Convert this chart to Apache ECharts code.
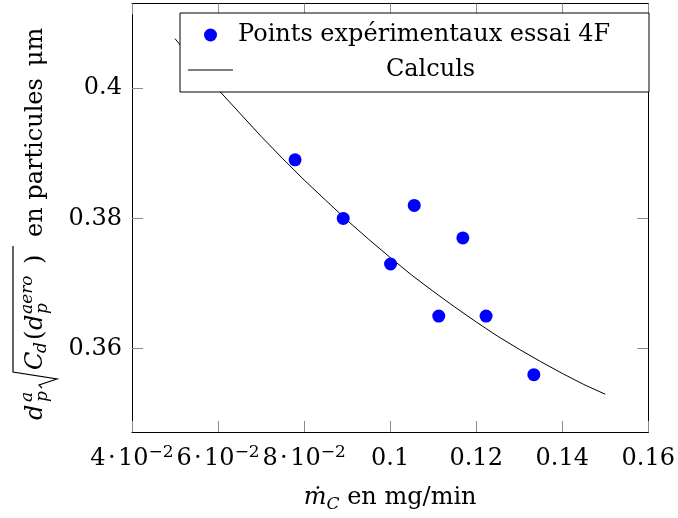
<!DOCTYPE html>
<html><head><meta charset="utf-8">
<script src="https://cdn.jsdelivr.net/npm/echarts@6/dist/echarts.min.js"></script>
<style>html,body{margin:0;padding:0;background:#fff}#c{width:678px;height:518px}</style>
</head><body><div id="c"></div>
<script>
// ---- data ----
const pointsName = 'Points expérimentaux essai 4F';
const curveName = 'Calculs';
const pointsX = [0.0779, 0.0891, 0.1001, 0.1056, 0.1113, 0.1169, 0.1223, 0.1334];
const pointsY = [0.389, 0.380, 0.373, 0.382, 0.365, 0.377, 0.365, 0.356];
const curveX = [0.050, 0.055, 0.060, 0.065, 0.070, 0.075, 0.080, 0.085, 0.090, 0.095, 0.100,
                0.105, 0.110, 0.115, 0.120, 0.125, 0.130, 0.135, 0.140, 0.145, 0.150];
const curveY = [0.4076, 0.4036, 0.3998, 0.3962, 0.3926, 0.3892, 0.3859, 0.3828, 0.3797, 0.3768, 0.3740,
                0.3713, 0.3688, 0.3664, 0.3641, 0.3619, 0.3599, 0.3580, 0.3562, 0.3545, 0.3530];
const xTicks = [0.04, 0.06, 0.08, 0.10, 0.12, 0.14, 0.16];
const xTickBase = ['4\u200a·\u200a10', '6\u200a·\u200a10', '8\u200a·\u200a10', '0.1', '0.12', '0.14', '0.16'];
const xTickExp = ['−2', '−2', '−2', '', '', '', ''];
const yTicks = [0.36, 0.38, 0.40];
const yTickLabels = ['0.36', '0.38', '0.4'];

const FF = '"DejaVu Serif"';
const FAM = 'DejaVu Serif';

function idx(arr, v) { for (let i = 0; i < arr.length; i++) if (Math.abs(arr[i] - v) < 1e-7) return i; return -1; }

function t(x, y, text, size, italic) {
  return { type: 'text', x: x, y: y,
    style: { text: text, font: (italic ? 'italic ' : '') + size + 'px ' + FF, fill: '#000',
             textAlign: 'left', textVerticalAlign: 'middle', align: 'left', verticalAlign: 'middle' } };
}
const M = -8.4, SUP = -16, SUB = -1;
const yTitle = {
  type: 'group', x: 44, y: 420, rotation: Math.PI / 2, silent: true,
  children: [
    t(0, M, 'd', 24, true),
    t(18, SUP, 'a', 17, true),
    t(18, SUB, 'p', 17, true),
    { type: 'polyline', shape: { points: [[32, -2], [35, -5], [41, 13], [48, -31], [174, -31]] },
      style: { stroke: '#000', lineWidth: 1.2, fill: null } },
    t(50, M, 'C', 24, true),
    t(67, -2, 'd', 17, true),
    t(80, M, '(', 24, false),
    t(90, M, 'd', 24, true),
    t(106, SUB, 'p', 17, true),
    t(106, SUP, 'aero', 17, true),
    t(156, M, ')', 24, false),
    t(183, M, 'en particules\u2002μm', 24, false)
  ]
};

const chart = echarts.init(document.getElementById('c'), null, { renderer: 'canvas' });
const tickStyle = { show: true, inside: true, length: 11, lineStyle: { color: '#8c8c8c', width: 1 } };
const lineStyleAxis = { color: '#000', width: 1 };

chart.setOption({
  animation: false,
  backgroundColor: '#fff',
  textStyle: { fontFamily: FAM },
  grid: { left: 132, right: 26, top: 3.5, bottom: 84, containLabel: false },
  xAxis: [
    { type: 'value', min: 0.04, max: 0.16, interval: 0.02, position: 'bottom',
      axisLine: { show: true, onZero: false, lineStyle: lineStyleAxis },
      axisTick: tickStyle, splitLine: { show: false },
      axisLabel: { margin: 12, color: '#000', showMinLabel: true, showMaxLabel: true, hideOverlap: false,
        formatter: function (v) { const i = idx(xTicks, v); if (i < 0) return '';
          return xTickExp[i] ? '{n|' + xTickBase[i] + '}{s|' + xTickExp[i] + '}' : '{n|' + xTickBase[i] + '}'; },
        rich: { n: { fontFamily: FAM, fontSize: 24, lineHeight: 30, color: '#000' },
                s: { fontFamily: FAM, fontSize: 17, lineHeight: 17, verticalAlign: 'top', color: '#000' } } },
      name: '{i|ṁ}{sub|C}{n| en mg/min}', nameLocation: 'middle', nameGap: 51,
      nameTextStyle: { rich: {
        i: { fontFamily: FAM, fontStyle: 'italic', fontSize: 24, lineHeight: 30, color: '#000' },
        sub: { fontFamily: FAM, fontStyle: 'italic', fontSize: 17, lineHeight: 17, verticalAlign: 'bottom', color: '#000' },
        n: { fontFamily: FAM, fontSize: 24, lineHeight: 30, color: '#000' } } } },
    { type: 'value', min: 0.04, max: 0.16, interval: 0.02, position: 'top',
      axisLine: { show: true, onZero: false, lineStyle: lineStyleAxis },
      axisTick: tickStyle, axisLabel: { show: false }, splitLine: { show: false } }
  ],
  yAxis: [
    { type: 'value', min: 0.3472, max: 0.4130, position: 'left',
      axisLine: { show: true, onZero: false, lineStyle: lineStyleAxis },
      axisTick: Object.assign({}, tickStyle, { customValues: yTicks }),
      splitLine: { show: false },
      axisLabel: { customValues: yTicks, margin: 10, color: '#000', fontFamily: FAM, fontSize: 24,
        formatter: function (v) { const i = idx(yTicks, v); return i < 0 ? '' : yTickLabels[i]; } } },
    { type: 'value', min: 0.3472, max: 0.4130, position: 'right',
      axisLine: { show: true, onZero: false, lineStyle: lineStyleAxis },
      axisTick: Object.assign({}, tickStyle, { customValues: yTicks }),
      axisLabel: { show: false }, splitLine: { show: false } }
  ],
  legend: {
    left: 180, top: 13, orient: 'vertical',
    padding: [8, 26, 8, 8], itemGap: 7, itemWidth: 45, itemHeight: 13,
    borderColor: '#000', borderWidth: 1, backgroundColor: '#fff', borderRadius: 0,
    data: [{ name: pointsName, icon: 'circle' },
           { name: curveName, icon: 'path://M0,0H45V1H0Z' }],
    formatter: function (name) { return name === curveName ? '{c|' + name + '}' : '{p|' + name + '}'; },
    textStyle: { fontFamily: FAM, fontSize: 24, lineHeight: 28, color: '#000',
      rich: { c: { width: 385, align: 'center', fontFamily: FAM, fontSize: 24, lineHeight: 28, color: '#000' },
              p: { width: 385, align: 'left', fontFamily: FAM, fontSize: 24, lineHeight: 28, color: '#000' } } }
  },
  series: [
    { name: curveName, type: 'line', xAxisIndex: 0, yAxisIndex: 0,
      data: curveX.map(function (x, i) { return [x, curveY[i]]; }),
      showSymbol: false, symbol: 'none', smooth: false,
      color: '#000', itemStyle: { color: '#000' }, lineStyle: { color: '#000', width: 1 }, z: 2 },
    { name: pointsName, type: 'scatter', xAxisIndex: 0, yAxisIndex: 0,
      data: pointsX.map(function (x, i) { return [x, pointsY[i]]; }),
      symbol: 'circle', symbolSize: 13, itemStyle: { color: '#0000ff', opacity: 1 }, z: 3 }
  ],
  graphic: [yTitle]
});
</script></body></html>
